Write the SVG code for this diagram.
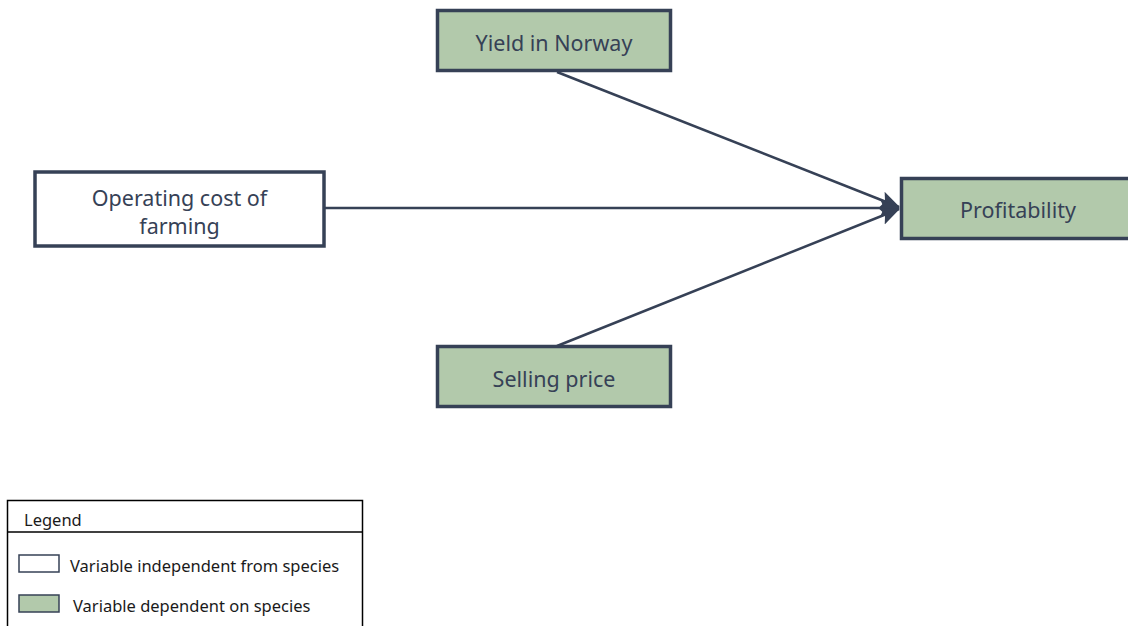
<svg xmlns="http://www.w3.org/2000/svg" width="1128" height="626" viewBox="0 0 1128 626">
<style>
.node{stroke:#364156;stroke-width:3.5}
.dep{fill:#b2c9ab}
.ind{fill:#ffffff}
.lbl{font-family:"Noto Sans","Open Sans",sans-serif;font-size:21.5px;fill:#364156;text-anchor:middle}
.leg{font-family:"Noto Sans","Open Sans",sans-serif;font-size:16.5px;fill:#1a1a1a}
.conn{stroke:#364156;stroke-width:2.5;fill:none}
</style>
<defs>
<marker id="arr" viewBox="0 0 20 20" refX="19" refY="10" markerWidth="20" markerHeight="20" markerUnits="userSpaceOnUse" orient="auto">
<path d="M0,1 L20,10 L0,19 L4,10 Z" fill="#364156"/>
</marker>
</defs>
<rect width="1128" height="626" fill="#ffffff"/>
<g id="connectors">
<line class="conn" x1="557" y1="72" x2="899" y2="207" marker-end="url(#arr)"/>
<line class="conn" x1="325" y1="208" x2="899" y2="208" marker-end="url(#arr)"/>
<line class="conn" x1="557" y1="346" x2="899" y2="209" marker-end="url(#arr)"/>
</g>
<g id="yield">
<rect class="node dep" x="437.5" y="10.5" width="233" height="60"/>
<text class="lbl" x="554" y="51">Yield in Norway</text>
</g>
<g id="operating">
<rect class="node ind" x="35" y="172" width="289" height="74"/>
<text class="lbl" x="179.5" y="206">Operating cost of</text>
<text class="lbl" x="179.5" y="234">farming</text>
</g>
<g id="profitability">
<rect class="node dep" x="901.5" y="178.5" width="240" height="60"/>
<text class="lbl" x="1018" y="218">Profitability</text>
</g>
<g id="selling">
<rect class="node dep" x="437.5" y="346.5" width="233" height="60"/>
<text class="lbl" x="554" y="387">Selling price</text>
</g>
<g id="legend">
<rect x="7.5" y="500.5" width="355" height="140" fill="#ffffff" stroke="#000000" stroke-width="1.5"/>
<line x1="7.5" y1="532" x2="362.5" y2="532" stroke="#000000" stroke-width="1.5"/>
<text class="leg" x="24" y="526">Legend</text>
<rect x="19" y="555" width="40" height="17" fill="#ffffff" stroke="#364156" stroke-width="1.5"/>
<text class="leg" x="70" y="572">Variable independent from species</text>
<rect x="19" y="595" width="40" height="17" fill="#b2c9ab" stroke="#364156" stroke-width="1.5"/>
<text class="leg" x="73" y="612">Variable dependent on species</text>
</g>
</svg>
